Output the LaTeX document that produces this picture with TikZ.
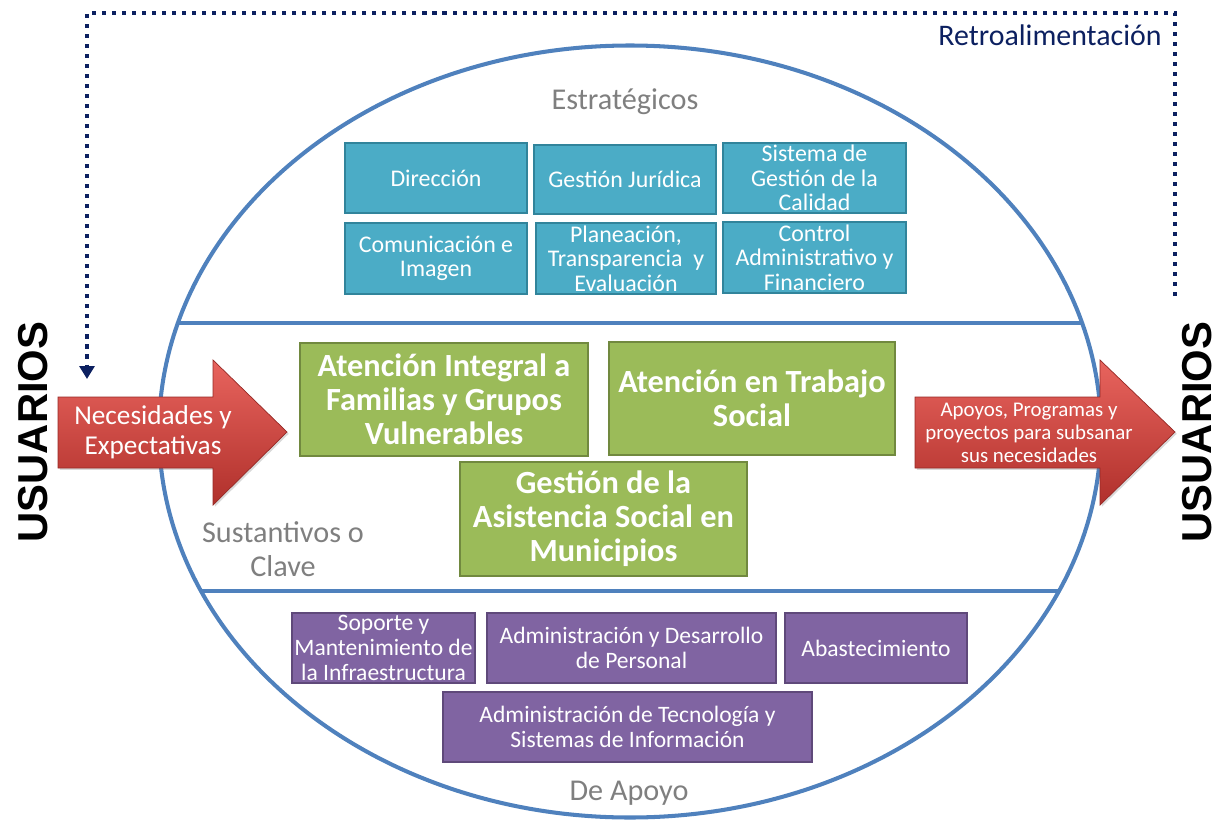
\documentclass[tikz,border=0pt]{standalone}
\usepackage{fontspec}
\setmainfont{Carlito}
\newfontfamily\usrfont{Liberation Sans}
\usetikzlibrary{arrows.meta, shadows}

\definecolor{elipseazul}{HTML}{4F81BD}
\definecolor{retroazul}{HTML}{0C2060}
\definecolor{tealfill}{HTML}{4BACC6}
\definecolor{tealborde}{HTML}{31849B}
\definecolor{verdefill}{HTML}{9BBB59}
\definecolor{verdeborde}{HTML}{71893F}
\definecolor{moradofill}{HTML}{8064A2}
\definecolor{moradoborde}{HTML}{5F497A}
\definecolor{rojoclaro}{HTML}{E8645E}
\definecolor{rojooscuro}{HTML}{B0302B}
\definecolor{gristexto}{HTML}{7F7F7F}

\def\unidad{0.02cm}

\begin{document}
\begin{tikzpicture}[x=0.02cm, y=-0.02cm,
	caja/.style 2 args={inner sep=0pt, align=center, text=white, line width=1.1pt,
		minimum width=#1*\unidad, minimum height=#2*\unidad,
		drop shadow={shadow xshift=0.8pt, shadow yshift=-0.8pt, opacity=0.3}},
	estrategico/.style={draw=tealborde, fill=tealfill, font=\fontsize{13.6}{14}\selectfont},
	sustantivo/.style={draw=verdeborde, fill=verdefill, font=\bfseries\fontsize{18.4}{19.3}\selectfont},
	apoyo/.style={draw=moradoborde, fill=moradofill, font=\fontsize{13.4}{14}\selectfont},
	seccion/.style={text=gristexto, align=center, font=\fontsize{17.2}{19.3}\selectfont},
	flecha/.style={top color=rojoclaro, bottom color=rojooscuro, draw=rojooscuro!85!black, line width=0.4pt,
		drop shadow={shadow xshift=1pt, shadow yshift=-1pt, opacity=0.3}},
	flechatexto/.style={text=white, align=center},
	usuarios/.style={rotate=90, font=\usrfont\bfseries\fontsize{23.8}{24}\selectfont},
	retro/.style={draw=retroazul, line width=2.3pt, dash pattern=on 2.3pt off 3.4pt,
		-{Triangle[width=8.5pt, length=7.4pt]}},
	linea/.style={draw=elipseazul, line width=2.3pt}]

	\useasboundingbox (0,0) rectangle (1225,825);

	\begin{scope}
		\clip (630,431.5) ellipse [x radius=471, y radius=386];
		\draw[linea] (0,323) -- (1225,323);
		\draw[linea] (0,591) -- (1225,591);
	\end{scope}
	\draw[linea] (630,431.5) ellipse [x radius=471, y radius=386];

	\node[seccion] (estrategicos) at (625,102) {Estratégicos};
	\node[seccion] (sustantivos) at (283,549) {Sustantivos o\\Clave};
	\node[seccion] (deapoyo) at (629,793) {De Apoyo};
	\node[text=retroazul, font=\fontsize{17}{19}\selectfont] (retrotexto) at (1050,35) {Retroalimentación};

	\node[caja={182}{70}, estrategico] (direccion) at (436,178) {Dirección};
	\node[caja={182}{69}, estrategico] (juridica) at (625,179.5) {Gestión Jurídica};
	\node[caja={183}{70}, estrategico] (calidad) at (814.5,178) {Sistema de\\Gestión de la\\Calidad};
	\node[caja={182}{71}, estrategico] (comunicacion) at (436,258.5) {Comunicación e\\Imagen};
	\node[caja={180}{71}, estrategico] (planeacion) at (626,258.5) {Planeación,\\Transparencia \ y\\Evaluación};
	\node[caja={183}{71}, estrategico] (control) at (814.5,257.5) {Control\\Administrativo y\\Financiero};

	\node[caja={288}{113}, sustantivo] (familias) at (444,399.5) {Atención Integral a\\Familias y Grupos\\Vulnerables};
	\node[caja={286}{113}, sustantivo] (trabajo) at (752,398.5) {Atención en Trabajo\\Social};
	\node[caja={287}{114}, sustantivo] (municipios) at (603.5,519) {Gestión de la\\Asistencia Social en\\Municipios};

	\node[caja={183}{70}, apoyo] (soporte) at (383.5,648) {Soporte y\\Mantenimiento de\\la Infraestructura};
	\node[caja={289}{70}, apoyo] (personal) at (631.5,648) {Administración y Desarrollo\\de Personal};
	\node[caja={182}{70}, apoyo] (abasto) at (876,648) {Abastecimiento};
	\node[caja={369}{70}, apoyo] (tecnologia) at (627.5,727) {Administración de Tecnología y\\Sistemas de Información};

	\path[flecha] (58,397) -- (213,397) -- (213,360) -- (287,432) -- (213,505) -- (213,468) -- (58,468) -- cycle;
	\path[flecha] (915,397) -- (1100,397) -- (1100,360) -- (1175,432) -- (1100,505) -- (1100,468) -- (915,468) -- cycle;
	\node[flechatexto, font=\fontsize{15.5}{17}\selectfont] (necesidades) at (153,432) {Necesidades y\\Expectativas};
	\node[flechatexto, font=\fontsize{11.9}{13}\selectfont] (apoyos) at (1029,433) {Apoyos, Programas y\\proyectos para subsanar\\sus necesidades};

	\node[usuarios] (usuarioizq) at (33,432) {USUARIOS};
	\node[usuarios] (usuarioder) at (1197,432) {USUARIOS};

	\coordinate (retroinicio) at (1175,296);
	\coordinate (esquina) at (87,13);
	\coordinate (retrofin) at (87,379);
	\draw[retro] (retroinicio) |- (esquina) -- (retrofin);
\end{tikzpicture}
\end{document}
